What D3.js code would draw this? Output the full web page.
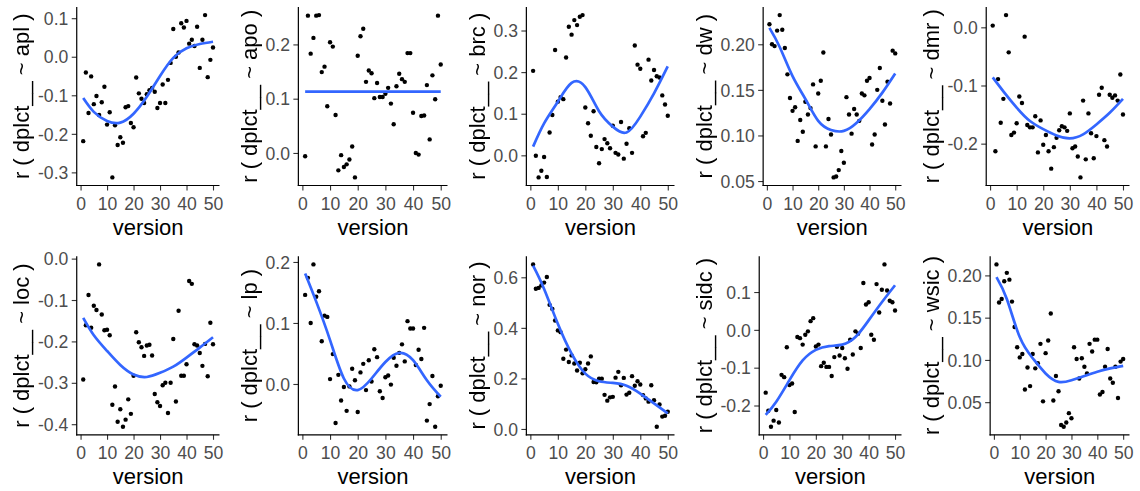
<!DOCTYPE html>
<html>
<head>
<meta charset="utf-8">
<script src="https://cdn.jsdelivr.net/npm/d3@7"></script>
<style>
  html, body { margin: 0; padding: 0; background: #ffffff; }
  svg { display: block; }
  .ytitle { filter: grayscale(100%); }
</style>
</head>
<body>
<svg id="chart" width="1140" height="491"></svg>
<script>
// Correlation of dplct with each metric across 50 versions, with a smoothed trend.
const versions = d3.range(1, 51);
const fitVersions = [1, 5, 10, 15, 20, 25, 30, 35, 40, 45, 50];
const xTicks = [0, 10, 20, 30, 40, 50];

const aplR = [-0.219, -0.041, -0.146, -0.051, -0.123, -0.102, -0.151, -0.118, -0.078, -0.176,
  -0.144, -0.313, -0.178, -0.229, -0.209, -0.223, -0.131, -0.128, -0.172, -0.183,
  -0.054, -0.095, -0.109, -0.120, -0.097, -0.087, -0.081, -0.091, -0.133, -0.120,
  -0.072, -0.120, -0.060, -0.016, 0.072, 0.000, 0.011, 0.087, 0.076, 0.093,
  0.034, 0.044, 0.028, 0.078, -0.029, 0.044, 0.108, -0.053, -0.008, 0.024];
const aplFit = [-0.107, -0.143, -0.167, -0.171, -0.148, -0.104, -0.050, -0.003, 0.022, 0.033, 0.039];
const aplTicks = [-0.3, -0.2, -0.1, 0.0, 0.1];

const apoR = [-0.006, 0.253, 0.183, 0.212, 0.253, 0.254, 0.149, 0.159, 0.086, 0.204,
  0.196, 0.070, -0.032, -0.004, -0.026, -0.021, -0.012, 0.012, -0.045, 0.179,
  0.215, 0.229, 0.131, 0.152, 0.147, 0.101, 0.129, 0.103, 0.103, 0.109,
  0.120, 0.091, 0.053, 0.123, 0.146, 0.136, 0.131, 0.184, 0.184, 0.074,
  0.000, -0.003, 0.068, 0.069, 0.125, 0.025, 0.143, 0.099, 0.253, 0.163];
const apoFit = [0.113, 0.113, 0.113, 0.113, 0.113, 0.113, 0.113, 0.113, 0.113, 0.113, 0.113];
const apoTicks = [0.0, 0.1, 0.2];

const brcR = [0.203, -0.001, -0.053, -0.037, -0.004, -0.052, 0.055, 0.097, 0.253, 0.129,
  0.140, 0.135, 0.235, 0.309, 0.290, 0.325, 0.313, 0.333, 0.337, 0.115,
  0.077, 0.047, 0.106, 0.020, -0.019, 0.015, 0.039, 0.029, 0.017, 0.071,
  0.006, 0.002, 0.080, -0.008, 0.028, 0.065, 0.006, 0.264, 0.218, 0.208,
  0.046, 0.054, 0.230, 0.180, 0.205, 0.190, 0.187, 0.144, 0.122, 0.095];
const brcFit = [0.021, 0.077, 0.129, 0.174, 0.164, 0.106, 0.069, 0.055, 0.093, 0.149, 0.214];
const brcTicks = [0.0, 0.1, 0.2, 0.3];

const dwR = [0.222, 0.200, 0.198, 0.215, 0.232, 0.216, 0.196, 0.167, 0.141, 0.127,
  0.131, 0.094, 0.117, 0.104, 0.137, 0.123, 0.130, 0.156, 0.088, 0.146,
  0.160, 0.191, 0.088, 0.118, 0.101, 0.054, 0.055, 0.062, 0.083, 0.070,
  0.142, 0.123, 0.102, 0.129, 0.123, 0.116, 0.146, 0.144, 0.160, 0.163,
  0.090, 0.101, 0.150, 0.174, 0.138, 0.112, 0.159, 0.135, 0.193, 0.190];
const dwFit = [0.218, 0.197, 0.165, 0.140, 0.116, 0.106, 0.105, 0.114, 0.129, 0.147, 0.168];
const dwTicks = [0.05, 0.10, 0.15, 0.20];

const dmrR = [0.003, -0.213, -0.089, -0.164, -0.123, 0.021, -0.043, -0.185, -0.181, -0.165,
  -0.119, -0.130, -0.016, -0.168, -0.172, -0.172, -0.153, -0.215, -0.160, -0.202,
  -0.185, -0.213, -0.243, -0.206, -0.190, -0.177, -0.170, -0.172, -0.178, -0.148,
  -0.208, -0.205, -0.222, -0.258, -0.126, -0.227, -0.148, -0.182, -0.225, -0.187,
  -0.116, -0.104, -0.194, -0.205, -0.116, -0.121, -0.117, -0.126, -0.081, -0.150];
const dmrFit = [-0.086, -0.110, -0.138, -0.161, -0.175, -0.186, -0.191, -0.184, -0.167, -0.147, -0.123];
const dmrTicks = [-0.2, -0.1, 0.0];

const locR = [-0.292, -0.161, -0.088, -0.167, -0.114, -0.124, -0.014, -0.135, -0.173, -0.172,
  -0.185, -0.353, -0.309, -0.394, -0.364, -0.406, -0.389, -0.340, -0.375, -0.283,
  -0.178, -0.202, -0.214, -0.235, -0.210, -0.208, -0.234, -0.327, -0.347, -0.356,
  -0.306, -0.300, -0.373, -0.300, -0.194, -0.345, -0.126, -0.283, -0.283, -0.255,
  -0.054, -0.061, -0.207, -0.210, -0.228, -0.259, -0.206, -0.284, -0.155, -0.207];
const locFit = [-0.143, -0.185, -0.223, -0.257, -0.280, -0.286, -0.276, -0.261, -0.239, -0.215, -0.190];
const locTicks = [-0.4, -0.3, -0.2, -0.1, 0.0];

const lpR = [0.146, 0.174, 0.100, 0.196, 0.143, 0.152, 0.070, 0.112, 0.110, 0.008,
  0.049, -0.064, 0.015, -0.027, -0.005, -0.044, -0.004, 0.025, 0.006, -0.046,
  0.019, 0.033, -0.010, 0.039, 0.004, 0.057, 0.044, -0.012, -0.023, 0.011,
  0.014, -0.001, 0.043, 0.030, 0.051, 0.065, 0.037, 0.103, 0.091, 0.091,
  0.031, 0.056, 0.041, 0.092, -0.060, -0.033, 0.013, -0.070, -0.020, -0.003];
const lpFit = [0.181, 0.135, 0.072, 0.009, -0.010, 0.009, 0.036, 0.051, 0.039, 0.006, -0.021];
const lpTicks = [0.0, 0.1, 0.2];

const norR = [0.651, 0.555, 0.558, 0.568, 0.579, 0.601, 0.491, 0.475, 0.429, 0.390,
  0.383, 0.278, 0.314, 0.265, 0.291, 0.259, 0.231, 0.262, 0.220, 0.236,
  0.259, 0.287, 0.186, 0.185, 0.199, 0.199, 0.135, 0.112, 0.125, 0.127,
  0.203, 0.226, 0.173, 0.202, 0.136, 0.143, 0.209, 0.171, 0.189, 0.176,
  0.134, 0.121, 0.108, 0.173, 0.114, 0.009, 0.097, 0.049, 0.052, 0.068];
const norFit = [0.646, 0.554, 0.416, 0.298, 0.219, 0.189, 0.182, 0.171, 0.140, 0.101, 0.062];
const norTicks = [0.0, 0.2, 0.4, 0.6];

const sidcR = [-0.166, -0.214, -0.256, -0.240, -0.212, -0.245, -0.119, -0.125, -0.046, -0.146,
  -0.142, -0.217, -0.019, -0.022, -0.039, -0.013, -0.004, 0.023, 0.031, -0.044,
  -0.039, -0.096, -0.087, -0.098, -0.098, -0.122, -0.072, -0.045, -0.068, -0.048,
  -0.075, -0.103, -0.026, -0.065, -0.004, -0.010, -0.048, 0.124, 0.067, 0.073,
  -0.013, -0.026, 0.121, 0.046, 0.106, 0.173, 0.104, 0.077, 0.073, 0.051];
const sidcFit = [-0.225, -0.190, -0.133, -0.081, -0.053, -0.043, -0.039, -0.019, 0.025, 0.073, 0.118];
const sidcTicks = [-0.2, -0.1, 0.0, 0.1];

const wsicR = [0.213, 0.168, 0.172, 0.193, 0.203, 0.195, 0.169, 0.139, 0.115, 0.103,
  0.107, 0.065, 0.091, 0.069, 0.107, 0.090, 0.096, 0.119, 0.051, 0.108,
  0.123, 0.155, 0.052, 0.081, 0.063, 0.023, 0.021, 0.026, 0.037, 0.031,
  0.115, 0.101, 0.078, 0.102, 0.092, 0.084, 0.119, 0.110, 0.124, 0.124,
  0.059, 0.062, 0.092, 0.113, 0.078, 0.073, 0.092, 0.055, 0.098, 0.101];
const wsicFit = [0.198, 0.172, 0.127, 0.102, 0.084, 0.074, 0.076, 0.081, 0.086, 0.090, 0.093];
const wsicTicks = [0.05, 0.10, 0.15, 0.20];

const panels = [
  { metric: "apl",  r: aplR,  fit: aplFit,  ticks: aplTicks,  digits: 1 },
  { metric: "apo",  r: apoR,  fit: apoFit,  ticks: apoTicks,  digits: 1 },
  { metric: "brc",  r: brcR,  fit: brcFit,  ticks: brcTicks,  digits: 1 },
  { metric: "dw",   r: dwR,   fit: dwFit,   ticks: dwTicks,   digits: 2 },
  { metric: "dmr",  r: dmrR,  fit: dmrFit,  ticks: dmrTicks,  digits: 1 },
  { metric: "loc",  r: locR,  fit: locFit,  ticks: locTicks,  digits: 1 },
  { metric: "lp",   r: lpR,   fit: lpFit,   ticks: lpTicks,   digits: 1 },
  { metric: "nor",  r: norR,  fit: norFit,  ticks: norTicks,  digits: 1 },
  { metric: "sidc", r: sidcR, fit: sidcFit, ticks: sidcTicks, digits: 1 },
  { metric: "wsic", r: wsicR, fit: wsicFit, ticks: wsicTicks, digits: 2 }
];

// ---- layout ----
const FONT = "'Liberation Sans', Arial, Helvetica, sans-serif";
const tickFont = 17.6, titleFont = 22;
const colLeft = [0.5, 228, 456, 683, 910];
const rowTop = [7, 256.3];
const plotH = 178.5;
const rightPad = 8.5;
const titleBand = 37.5;
const tickLen = 5, tickGap = 3.4;

const svg = d3.select("#chart");

// measure tick label widths to place each y axis
const measurer = svg.append("text")
  .attr("font-family", FONT).attr("font-size", tickFont)
  .attr("visibility", "hidden");
function textWidth(s) {
  measurer.text(s);
  return measurer.node().getComputedTextLength();
}

const fmt = (v, d) => v.toFixed(d);

panels.forEach((p, i) => {
  const col = i % 5, row = Math.floor(i / 5);
  const cellX = colLeft[col];
  const top = rowTop[row], bottom = top + plotH;
  const labels = p.ticks.map(t => fmt(t, p.digits));
  const maxW = d3.max(labels, textWidth);
  const left = cellX + titleBand + maxW + tickLen + tickGap;
  const right = (col < 4 ? colLeft[col + 1] : 1140) - rightPad - (col === 4 ? 2 : 0);

  // 5% expansion on both axes
  const xExt = d3.extent(versions);
  const xPad = (xExt[1] - xExt[0]) * 0.05;
  const x = d3.scaleLinear().domain([xExt[0] - xPad, xExt[1] + xPad]).range([left, right]);

  const yExt = d3.extent(p.r.concat(p.fit));
  const yPad = (yExt[1] - yExt[0]) * 0.05;
  const y = d3.scaleLinear().domain([yExt[0] - yPad, yExt[1] + yPad]).range([bottom, top]);

  const g = svg.append("g").attr("class", "panel panel-" + p.metric);

  // points
  g.append("g").selectAll("circle")
    .data(versions)
    .join("circle")
    .attr("cx", (v) => x(v))
    .attr("cy", (v, k) => y(p.r[k]))
    .attr("r", 2.2)
    .attr("fill", "#000000");

  // smoothed trend
  const line = d3.line()
    .x((v) => x(v))
    .y((v, k) => y(p.fit[k]))
    .curve(d3.curveNatural);
  g.append("path")
    .datum(fitVersions)
    .attr("d", line)
    .attr("fill", "none")
    .attr("stroke", "#3366FF")
    .attr("stroke-width", 2.7)
    .attr("stroke-linecap", "butt");

  // y axis
  const yAxis = d3.axisLeft(y)
    .tickValues(p.ticks)
    .tickFormat(t => fmt(t, p.digits))
    .tickSize(tickLen)
    .tickPadding(tickGap);
  const ya = g.append("g").attr("transform", `translate(${left},0)`).call(yAxis);

  // x axis
  const xAxis = d3.axisBottom(x)
    .tickValues(xTicks)
    .tickFormat(d3.format("d"))
    .tickSize(tickLen)
    .tickPadding(tickGap);
  const xa = g.append("g").attr("transform", `translate(0,${bottom})`).call(xAxis);

  [ya, xa].forEach(a => {
    a.select(".domain").remove();
    a.selectAll(".tick line").attr("stroke", "#333333").attr("stroke-width", 1.1);
    a.selectAll(".tick text")
      .attr("font-family", FONT)
      .attr("font-size", tickFont)
      .attr("fill", "#4D4D4D");
  });
  ya.selectAll(".tick text").attr("dy", "0.35em");
  xa.selectAll(".tick text").attr("dy", null).attr("y", 24.7);

  // axis lines
  g.append("line")
    .attr("x1", left).attr("x2", left)
    .attr("y1", top).attr("y2", bottom + 0.6)
    .attr("stroke", "#000").attr("stroke-width", 1.2);
  g.append("line")
    .attr("x1", left - 0.6).attr("x2", right)
    .attr("y1", bottom).attr("y2", bottom)
    .attr("stroke", "#000").attr("stroke-width", 1.2);

  // axis titles
  g.append("text")
    .attr("x", (left + right) / 2)
    .attr("y", bottom + 49.5)
    .attr("text-anchor", "middle")
    .attr("font-family", FONT)
    .attr("font-size", titleFont)
    .attr("fill", "#000")
    .text("version");

  g.append("text")
    .attr("class", "ytitle")
    .attr("transform", `translate(${cellX + 28.5},${(top + bottom) / 2}) rotate(-90)`)
    .attr("text-anchor", "middle")
    .attr("font-family", FONT)
    .attr("font-size", titleFont)
    .attr("fill", "#000")
    .text(`r ( dplct__ ~ ${p.metric} )`);
});

measurer.remove();
</script>
</body>
</html>
